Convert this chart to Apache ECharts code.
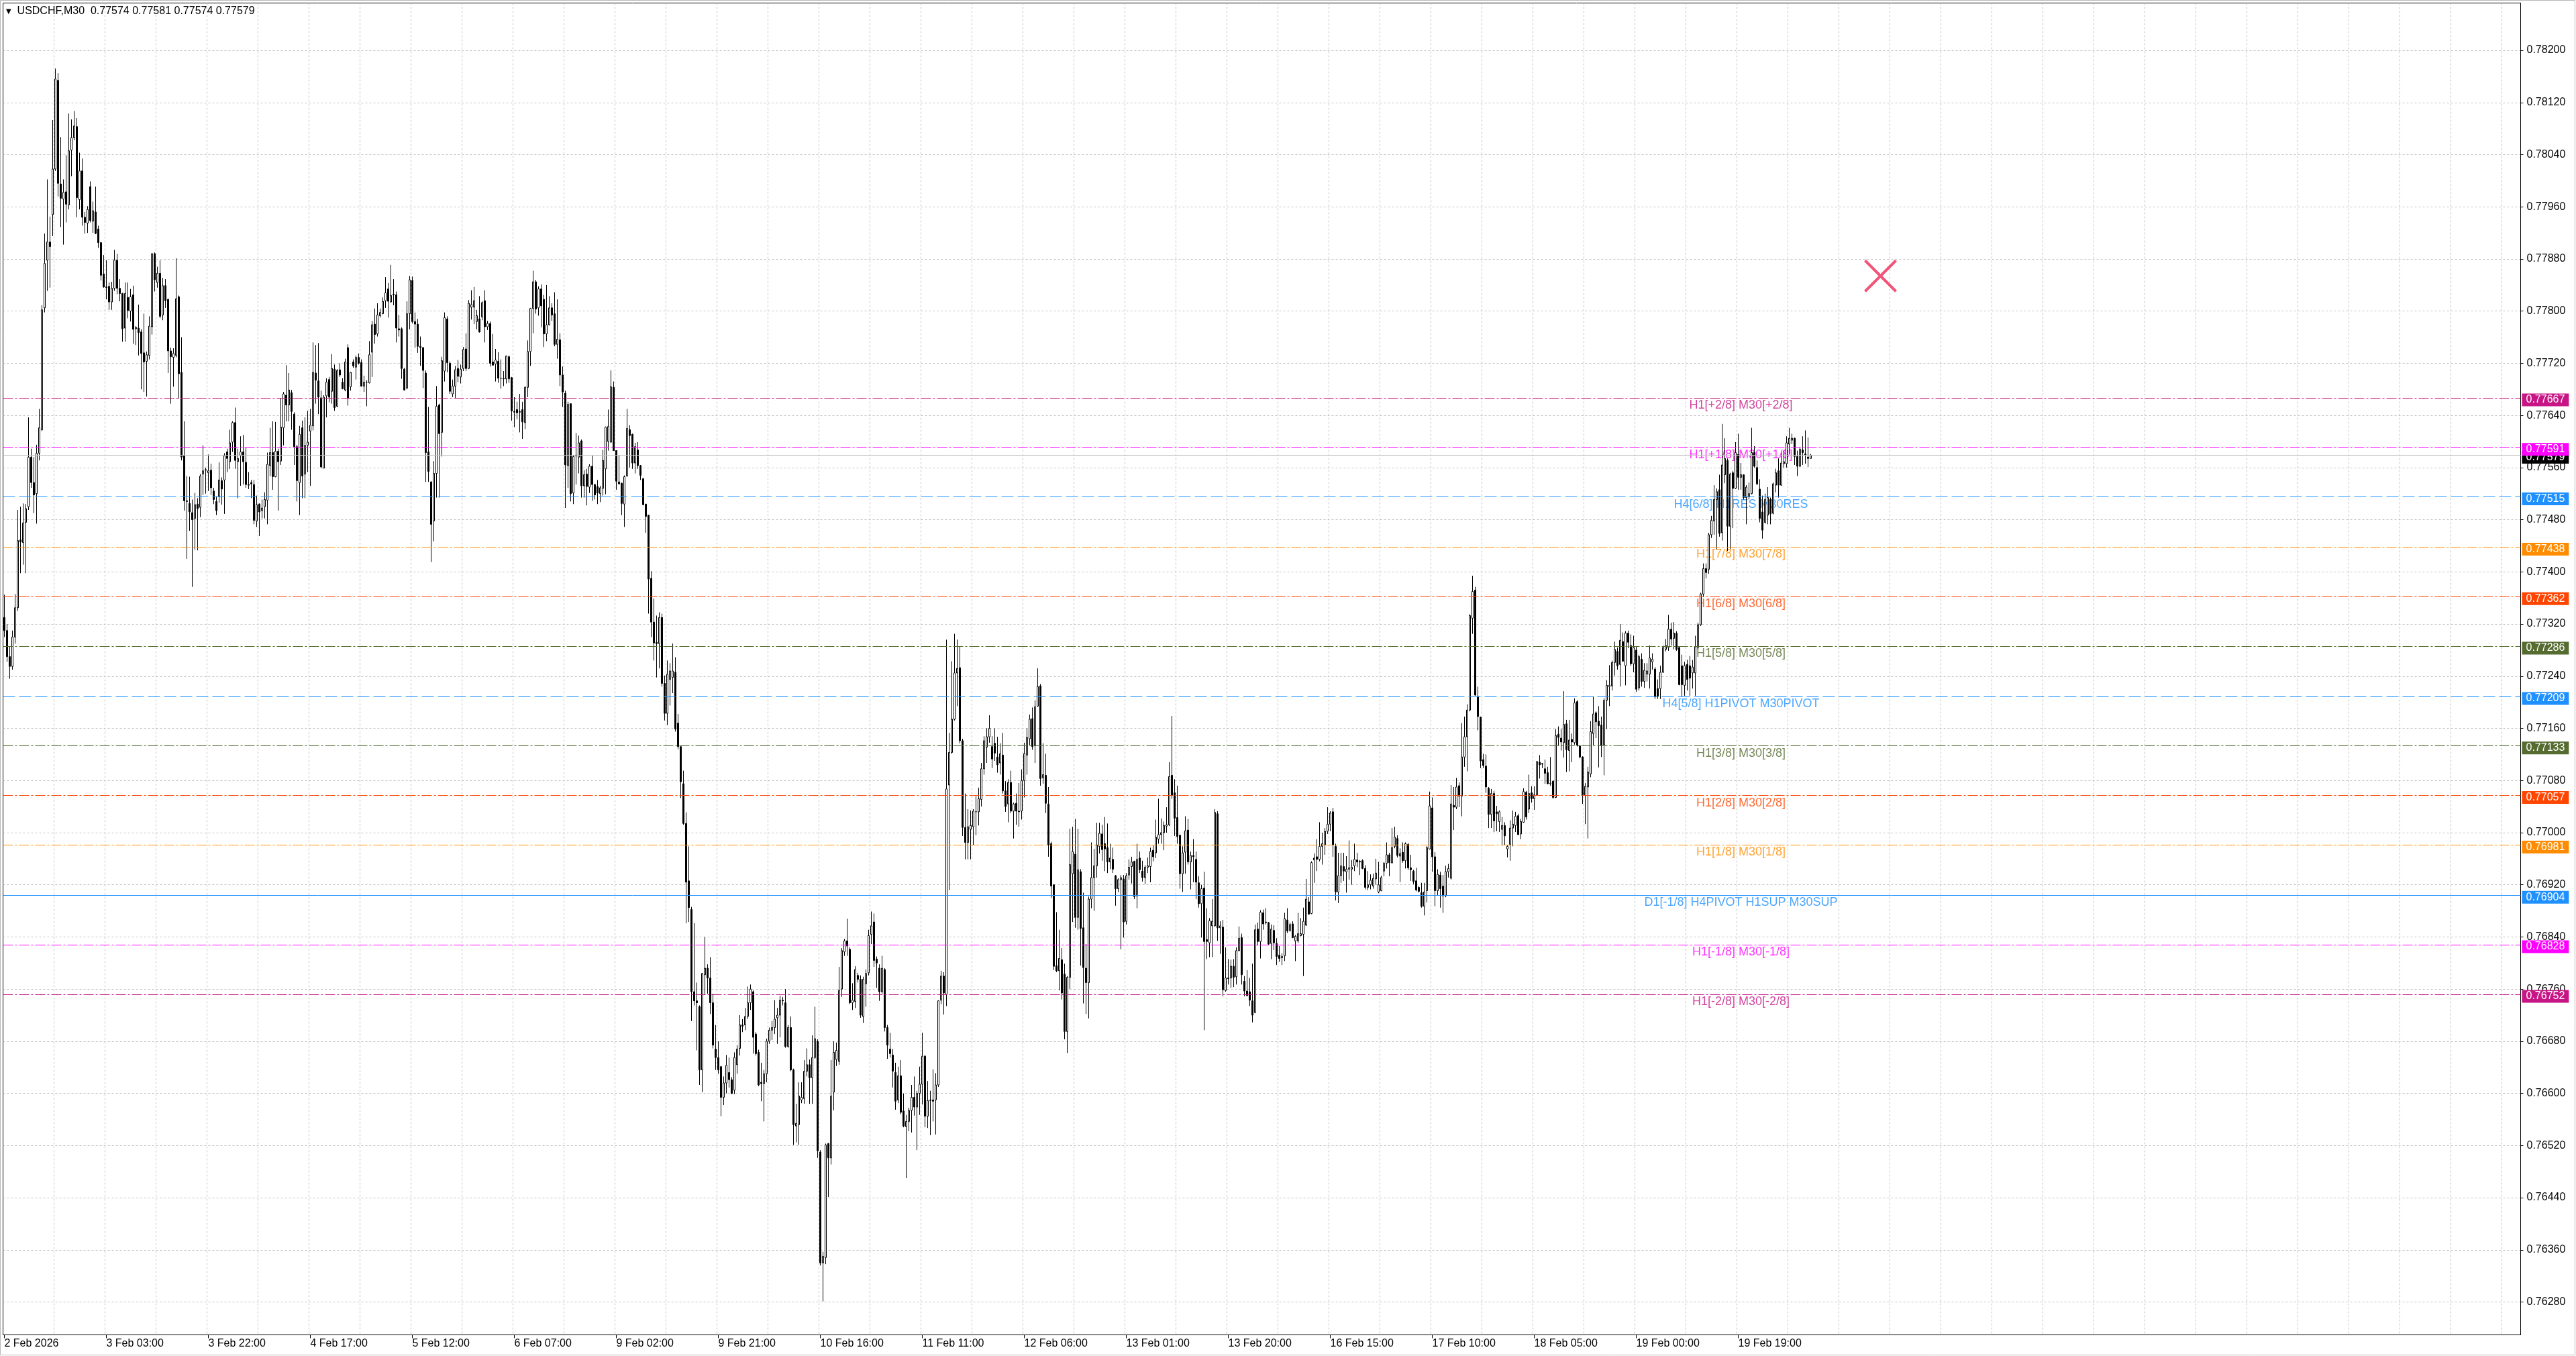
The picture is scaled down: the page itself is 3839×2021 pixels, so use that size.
<!DOCTYPE html>
<html>
<head>
<meta charset="utf-8">
<script src="https://cdn.jsdelivr.net/npm/echarts@6/dist/echarts.min.js"></script>
<style>
html,body{margin:0;padding:0;background:#ffffff;}
#chart{width:3839px;height:2021px;}
</style>
</head>
<body>
<div id="chart"></div>
<script>
// ---------------- chart data ----------------
const symbolName = 'USDCHF,M30';
const firstBarTime = '2026-02-02T08:00:00Z';   // first visible M30 bar
const totalSlots = 938;                         // bar slots across the chart (incl. right shift)
const xTickLabels = ['2 Feb 2026','3 Feb 03:00','3 Feb 22:00','4 Feb 17:00','5 Feb 12:00','6 Feb 07:00',
  '9 Feb 02:00','9 Feb 21:00','10 Feb 16:00','11 Feb 11:00','12 Feb 06:00','13 Feb 01:00','13 Feb 20:00',
  '16 Feb 15:00','17 Feb 10:00','18 Feb 05:00','19 Feb 00:00','19 Feb 19:00'];
const xTickStep = 38;      // bars between time labels
const xGridStep = 19;      // bars between vertical grid lines
const yTicks = [0.76280,0.76360,0.76440,0.76520,0.76600,0.76680,0.76760,0.76840,0.76920,0.77000,
  0.77080,0.77160,0.77240,0.77320,0.77400,0.77480,0.77560,0.77640,0.77720,0.77800,0.77880,0.77960,
  0.78040,0.78120,0.78200];
const yMin = 0.762296, yMax = 0.782726;

// Murrey-math style levels
const levelValues = [0.77667,0.77591,0.77515,0.77438,0.77362,0.77286,0.77209,0.77133,0.77057,0.76981,0.76904,0.76828,0.76752];
const levelColors = ['#C71585','#FF00FF','#1E90FF','#FF8C00','#FF4500','#556B2F','#1E90FF','#556B2F','#FF4500','#FF8C00','#1E90FF','#FF00FF','#C71585'];
const levelStyles = ['dashdot','dashdot','dash','dashdot','dashdot','dashdot','dash','dashdot','dashdot','dashdot','solid','dashdot','dashdot'];
const levelTexts = ['H1[+2/8] M30[+2/8]','H1[+1/8] M30[+1/8]','H4[6/8] H1RES M30RES','H1[7/8] M30[7/8]','H1[6/8] M30[6/8]',
  'H1[5/8] M30[5/8]','H4[5/8] H1PIVOT M30PIVOT','H1[3/8] M30[3/8]','H1[2/8] M30[2/8]','H1[1/8] M30[1/8]',
  'D1[-1/8] H4PIVOT H1SUP M30SUP','H1[-1/8] M30[-1/8]','H1[-2/8] M30[-2/8]'];
const levelTextBar = 647;
const crossMarker = [699, 0.77854];

// OHLC bars in pipettes: [open, high, low, close]
const bars = [
[77330,77365,77300,77310],[77310,77320,77262,77270],[77270,77285,77236,77255],[77255,77310,77250,77300],[77300,77366,77290,77345],
[77345,77495,77340,77448],[77449,77500,77398,77446],[77445,77505,77411,77475],[77476,77504,77398,77497],[77500,77637,77495,77576],
[77576,77589,77529,77537],[77537,77576,77490,77518],[77520,77595,77474,77582],[77582,77650,77571,77621],[77618,77809,77616,77802],
[77805,77919,77798,77873],[77878,78002,77831,77906],[77906,77945,77836,77899],[77948,78093,77915,78018],[78018,78172,78015,78156],
[78154,78165,77976,77996],[77995,78067,77929,77973],[77972,78002,77902,77982],[77983,78039,77936,77964],[77963,78103,77956,78046],
[78047,78094,78007,78066],[78066,78107,78062,78084],[78083,78096,77944,77974],[77971,78043,77956,78015],[78015,78034,77931,77944],
[77944,77952,77919,77936],[77935,77961,77920,77956],[77991,77999,77936,77939],[77938,77968,77920,77954],[77952,77991,77918,77919],
[77926,77931,77897,77905],[77905,77906,77847,77855],[77857,77886,77836,77837],[77837,77878,77818,77836],[77838,77844,77802,77814],
[77814,77845,77802,77835],[77835,77894,77831,77878],[77878,77888,77826,77835],[77835,77849,77815,77827],[77827,77828,77753,77773],
[77774,77844,77753,77827],[77821,77844,77789,77801],[77800,77834,77784,77822],[77825,77839,77750,77772],[77773,77777,77748,77775],
[77774,77810,77732,77767],[77768,77772,77680,77735],[77736,77796,77676,77722],[77723,77738,77669,77733],[77732,77792,77726,77777],
[77776,77889,77764,77888],[77888,77890,77830,77848],[77844,77868,77836,77858],[77858,77878,77789,77792],[77794,77851,77786,77839],
[77839,77849,77805,77816],[77818,77819,77705,77739],[77739,77744,77658,77730],[77729,77743,77684,77735],[77732,77881,77729,77819],
[77822,77824,77666,77704],[77706,77760,77571,77576],[77578,77631,77494,77509],[77509,77547,77420,77508],[77505,77546,77463,77492],
[77491,77511,77377,77480],[77482,77521,77434,77503],[77504,77513,77433,77497],[77499,77550,77484,77547],[77550,77594,77518,77555],
[77556,77560,77520,77557],[77552,77580,77524,77555],[77556,77566,77518,77529],[77524,77529,77504,77511],[77508,77516,77487,77494],
[77516,77568,77506,77541],[77540,77545,77503,77527],[77541,77582,77489,77578],[77584,77589,77553,77574],[77569,77618,77558,77598],
[77599,77631,77584,77629],[77629,77652,77558,77571],[77569,77589,77513,77574],[77578,77608,77532,77584],[77584,77610,77534,77569],
[77568,77590,77529,77534],[77534,77553,77527,77533],[77537,77541,77513,77535],[77534,77541,77473,77479],[77478,77517,77469,77503],
[77504,77505,77455,77492],[77494,77511,77482,77498],[77500,77522,77482,77511],[77510,77583,77473,77565],[77563,77621,77547,77583],
[77583,77631,77526,77546],[77546,77630,77545,77585],[77585,77589,77494,77569],[77570,77666,77564,77622],[77621,77676,77594,77673],
[77671,77717,77631,77656],[77656,77705,77631,77679],[77675,77679,77618,77646],[77642,77645,77564,77592],[77592,77595,77508,77540],
[77537,77624,77487,77611],[77621,77632,77513,77547],[77550,77637,77513,77594],[77594,77647,77553,77599],[77616,77650,77532,77625],
[77624,77752,77617,77706],[77705,77748,77658,77694],[77693,77751,77642,77668],[77667,77678,77559,77561],[77559,77671,77559,77668],
[77670,77697,77637,77691],[77695,77699,77660,77668],[77677,77734,77658,77712],[77711,77718,77647,77652],[77654,77711,77653,77709],
[77710,77720,77699,77702],[77691,77697,77680,77681],[77679,77727,77677,77722],[77744,77749,77655,77666],[77684,77707,77678,77706],
[77722,77726,77713,77716],[77714,77732,77695,77729],[77729,77735,77718,77720],[77721,77726,77684,77685],[77685,77701,77676,77691],
[77691,77694,77654,77691],[77690,77754,77689,77733],[77737,77785,77699,77779],[77780,77804,77750,77764],[77765,77812,77761,77794],
[77793,77804,77790,77798],[77796,77821,77795,77815],[77816,77852,77805,77828],[77834,77843,77790,77815],[77814,77871,77813,77824],
[77826,77849,77809,77825],[77825,77830,77752,77774],[77773,77794,77761,77771],[77773,77775,77696,77712],[77711,77713,77678,77679],
[77682,77815,77680,77796],[77796,77854,77772,77848],[77847,77853,77781,77784],[77784,77798,77744,77780],[77780,77788,77736,77746],
[77746,77761,77716,77744],[77744,77745,77682,77709],[77705,77709,77538,77583],[77584,77653,77538,77554],[77538,77539,77415,77473],
[77478,77570,77447,77551],[77551,77685,77514,77654],[77656,77658,77514,77612],[77614,77730,77577,77724],[77708,77798,77692,77790],
[77788,77792,77706,77721],[77720,77723,77673,77677],[77673,77695,77668,77685],[77685,77716,77666,77710],[77712,77725,77691,77700],
[77699,77718,77689,77711],[77712,77745,77708,77741],[77742,77766,77708,77712],[77712,77817,77711,77812],[77806,77832,77787,77810],
[77806,77837,77780,77816],[77784,77802,77772,77793],[77788,77823,77767,77768],[77791,77815,77786,77813],[77816,77832,77752,77776],
[77776,77785,77771,77781],[77781,77784,77715,77720],[77722,77765,77717,77717],[77719,77742,77692,77725],[77723,77737,77690,77697],
[77697,77726,77681,77697],[77697,77708,77685,77696],[77696,77732,77689,77731],[77730,77732,77690,77696],[77698,77699,77632,77647],
[77646,77668,77622,77645],[77649,77661,77634,77644],[77646,77673,77614,77645],[77649,77661,77604,77630],[77629,77685,77619,77683],
[77683,77755,77668,77738],[77738,77805,77716,77804],[77804,77862,77766,77845],[77845,77848,77796,77803],[77805,77838,77793,77834],
[77834,77841,77775,77808],[77818,77825,77745,77765],[77765,77840,77754,77779],[77779,77823,77778,77805],[77805,77812,77785,77794],
[77796,77829,77746,77749],[77749,77818,77727,77757],[77756,77766,77685,77702],[77702,77715,77653,77676],[77674,77678,77498,77564],
[77563,77661,77529,77657],[77658,77658,77508,77520],[77521,77579,77504,77577],[77579,77613,77534,77578],[77576,77609,77551,77598],
[77601,77603,77514,77532],[77532,77556,77514,77549],[77550,77558,77502,77531],[77530,77565,77521,77562],[77562,77578,77509,77534],
[77534,77535,77511,77518],[77531,77541,77504,77521],[77520,77532,77507,77529],[77528,77587,77517,77571],[77558,77623,77519,77622],
[77600,77649,77586,77623],[77599,77709,77598,77684],[77683,77692,77586,77586],[77586,77586,77526,77539],[77538,77579,77534,77535],
[77536,77537,77487,77505],[77504,77548,77469,77546],[77547,77650,77546,77620],[77618,77625,77560,77609],[77611,77612,77558,77567],
[77567,77598,77551,77592],[77587,77599,77558,77563],[77563,77564,77541,77548],[77543,77544,77502,77503],[77504,77504,77460,77485],
[77487,77487,77336,77389],[77390,77401,77300,77323],[77323,77359,77264,77291],[77292,77333,77238,77290],[77290,77338,77252,77330],
[77330,77336,77224,77229],[77229,77241,77172,77183],[77183,77264,77165,77243],[77235,77260,77195,77248],[77238,77290,77214,77248],
[77246,77269,77155,77159],[77168,77182,77128,77132],[77132,77132,77053,77078],[77075,77095,77012,77014],[77014,77031,76861,76924],
[76926,76979,76863,76885],[76882,76886,76711,76756],[76756,76861,76735,76742],[76742,76770,76666,76739],[76733,76735,76613,76636],
[76636,76785,76602,76784],[76782,76840,76752,76792],[76792,76798,76753,76777],[76777,76809,76722,76739],[76739,76753,76669,76674],
[76668,76705,76636,76655],[76655,76680,76630,76636],[76641,76642,76565,76594],[76594,76626,76582,76616],[76616,76659,76600,76643],
[76632,76655,76609,76621],[76621,76625,76599,76600],[76605,76663,76599,76655],[76644,76674,76630,76668],[76669,76720,76658,76705],
[76705,76714,76694,76703],[76705,76731,76697,76718],[76718,76764,76714,76739],[76739,76767,76728,76760],[76756,76758,76661,76686],
[76691,76694,76658,76661],[76663,76667,76611,76613],[76617,76647,76588,76615],[76615,76636,76557,76630],[76630,76684,76617,76680],
[76680,76701,76676,76697],[76697,76711,76682,76701],[76701,76743,76691,76714],[76716,76731,76676,76720],[76720,76750,76686,76743],
[76743,76748,76735,76742],[76739,76760,76670,76672],[76672,76705,76670,76701],[76701,76718,76634,76636],[76636,76638,76521,76552],
[76550,76584,76525,76554],[76552,76617,76521,76596],[76590,76617,76585,76594],[76592,76651,76584,76634],[76634,76669,76626,76644],
[76644,76652,76584,76624],[76624,76689,76584,76655],[76655,76733,76653,76684],[76680,76683,76501,76512],[76510,76513,76336,76340],
[76340,76357,76281,76350],[76348,76523,76338,76521],[76523,76524,76441,76501],[76501,76651,76491,76596],[76602,76680,76574,76663],
[76652,76678,76642,76666],[76649,76794,76644,76758],[76760,76823,76748,76819],[76817,76837,76811,76834],[76834,76868,76811,76826],
[76821,76824,76737,76739],[76739,76769,76728,76743],[76741,76795,76731,76790],[76781,76785,76770,76775],[76775,76781,76716,76720],
[76718,76779,76708,76775],[76768,76790,76733,76784],[76785,76851,76781,76842],[76844,76879,76829,76857],[76863,76876,76794,76804],
[76806,76810,76762,76800],[76792,76798,76742,76756],[76756,76811,76753,76792],[76790,76792,76695,76701],[76701,76705,76653,76674],
[76668,76693,76655,76661],[76659,76668,76609,76634],[76632,76647,76575,76588],[76590,76641,76585,76627],[76627,76651,76568,76571],
[76573,76600,76548,76550],[76549,76567,76470,76557],[76557,76578,76542,76574],[76574,76613,76540,76594],[76594,76626,76566,76579],
[76579,76604,76513,76600],[76600,76641,76567,76614],[76614,76693,76583,76657],[76657,76659,76548,76565],[76565,76619,76547,76589],
[76590,76604,76536,76589],[76590,76637,76557,76588],[76590,76631,76537,76613],[76613,76743,76610,76742],[76743,76788,76737,76780],
[76780,76786,76721,76754],[76752,77296,76734,77067],[77073,77153,76912,77123],[77123,77263,77121,77174],[77174,77305,77172,77245],
[77245,77296,77194,77252],[77253,77285,77137,77141],[77141,77144,76995,77008],[77008,77060,76959,76985],[76985,77036,76959,77009],
[77005,77034,76959,77011],[77009,77036,76981,77033],[77032,77056,76996,77032],[77032,77069,77011,77052],[77051,77107,77040,77098],
[77098,77148,77089,77141],[77131,77160,77107,77147],[77147,77180,77138,77160],[77132,77148,77099,77113],[77137,77160,77110,77122],
[77116,77147,77092,77104],[77107,77137,77089,77121],[77119,77153,77060,77064],[77064,77079,77032,77040],[77044,77082,77016,77077],
[77077,77095,77030,77033],[77033,77046,76991,77044],[77045,77060,77012,77033],[77033,77076,77009,77032],[77033,77097,77020,77080],
[77080,77138,77054,77121],[77119,77160,77089,77146],[77144,77181,77134,77174],[77175,77192,77127,77132],[77134,77203,77107,77193],
[77194,77252,77193,77224],[77225,77228,77072,77083],[77084,77137,77075,77089],[77088,77121,77030,77045],[77044,77070,76963,76981],
[76983,76986,76900,76918],[76920,76921,76789,76795],[76796,76878,76786,76788],[76788,76851,76758,76807],[76805,76823,76744,76754],
[76783,76799,76683,76695],[76695,76780,76662,76778],[76778,77006,76760,76951],[76937,77009,76863,76971],[76967,77021,76854,76870],
[76870,77006,76851,76943],[76940,76944,76796,76853],[76854,76908,76738,76793],[76792,76829,76722,76770],[76770,76902,76715,76898],
[76898,76985,76884,76931],[76931,76975,76880,76949],[76949,77015,76931,76981],[76979,77015,76968,76999],[76998,77012,76957,76974],
[76983,77024,76941,76975],[76977,77014,76938,76955],[76955,76983,76944,76961],[76959,76977,76938,76944],[76934,76935,76888,76914],
[76914,76930,76909,76928],[76928,76935,76821,76931],[76929,76935,76839,76863],[76864,76938,76859,76934],[76935,76959,76928,76947],
[76948,76963,76922,76955],[76956,76957,76898,76902],[76903,76983,76884,76959],[76961,76971,76938,76943],[76941,76957,76925,76931],
[76931,76950,76921,76947],[76947,76962,76938,76949],[76948,76977,76924,76971],[76973,76980,76956,76963],[76969,77020,76961,76993],
[76990,77052,76983,76997],[76997,77022,76983,77000],[77000,77017,76973,77011],[77010,77039,77000,77012],[77012,77108,77010,77086],
[77088,77179,77052,77057],[77061,77082,76995,77022],[77023,77072,76983,76994],[76996,76997,76914,76937],[76937,76979,76909,76969],
[76970,77025,76937,77003],[77004,77021,76951,76955],[76955,76971,76913,76965],[76965,76990,76924,76963],[76959,76971,76898,76924],
[76923,76933,76885,76891],[76891,76920,76839,76914],[76915,76940,76697,76833],[76836,76884,76806,76833],[76831,76869,76809,76865],
[76857,76898,76809,76864],[76857,77036,76856,77031],[77029,77033,76834,76854],[76854,76864,76814,76857],[76855,76866,76749,76759],
[76758,76824,76756,76777],[76777,76806,76767,76776],[76777,76805,76762,76795],[76795,76806,76763,76778],[76779,76824,76767,76819],
[76819,76856,76818,76838],[76839,76845,76767,76782],[76772,76780,76749,76757],[76757,76789,76749,76750],[76756,76777,76734,76743],
[76742,76799,76709,76720],[76724,76859,76723,76851],[76852,76862,76827,76833],[76833,76881,76807,76878],[76877,76882,76851,76860],
[76863,76884,76859,76862],[76862,76863,76828,76829],[76830,76859,76806,76852],[76850,76858,76820,76831],[76830,76838,76797,76810],
[76812,76826,76802,76807],[76808,76815,76797,76810],[76811,76877,76803,76868],[76866,76884,76846,76849],[76850,76862,76848,76859],
[76860,76864,76838,76839],[76834,76843,76803,76841],[76834,76877,76831,76845],[76842,76869,76841,76845],[76844,76885,76780,76864],
[76858,76929,76857,76898],[76894,76901,76874,76875],[76876,76956,76875,76954],[76958,76968,76923,76961],[76963,76990,76941,76959],
[76959,77016,76956,76979],[76979,77000,76951,76983],[76981,77007,76966,77002],[77002,77039,76998,77013],[77013,77033,77002,77030],
[77032,77038,76963,76981],[76979,76983,76896,76909],[76909,76969,76892,76934],[76934,76969,76923,76949],[76948,76969,76926,76941],
[76940,76964,76908,76944],[76944,76988,76928,76946],[76944,76958,76920,76947],[76949,76983,76941,76959],[76958,76969,76947,76955],
[76956,76958,76935,76955],[76957,76959,76944,76945],[76945,76950,76913,76916],[76916,76941,76912,76920],[76920,76936,76913,76927],
[76918,76937,76914,76930],[76929,76960,76920,76938],[76909,76955,76907,76920],[76911,76934,76910,76931],[76941,76955,76933,76953],
[76953,76985,76945,76966],[76966,76969,76933,76954],[76954,77007,76952,76977],[76979,77009,76976,76993],[76991,76996,76962,76965],
[76964,76976,76924,76968],[76970,76985,76954,76957],[76957,76985,76945,76983],[76982,76984,76943,76946],[76946,76966,76926,76943],
[76941,76943,76921,76925],[76926,76946,76910,76912],[76916,76918,76908,76910],[76908,76923,76885,76887],[76887,76923,76873,76909],
[76911,76979,76893,76977],[76975,77063,76974,77041],[77038,77054,76940,76963],[76963,76970,76887,76911],[76911,76944,76904,76936],
[76935,76940,76885,76914],[76918,76935,76877,76903],[76903,76949,76901,76940],[76940,76952,76931,76945],[76930,77073,76928,77044],
[77042,77070,77004,77039],[77039,77084,77036,77070],[77072,77077,77039,77056],[77056,77168,77025,77116],[77116,77178,77101,77147],
[77147,77197,77094,77188],[77188,77335,77186,77333],[77329,77394,77305,77370],[77372,77377,77210,77211],[77209,77224,77157,77178],
[77177,77178,77099,77110],[77112,77121,77099,77103],[77102,77120,77061,77070],[77068,77070,77007,77028],[77028,77067,77007,77060],
[77060,77064,77001,77018],[77032,77041,77002,77029],[77017,77034,77001,77032],[77005,77024,76981,77011],[77011,77016,76981,76995],
[76975,76981,76962,76979],[76982,77019,76957,77007],[77007,77034,76979,77013],[77011,77032,77001,77025],[77026,77029,76996,76997],
[76998,77021,76990,77017],[77016,77068,77015,77063],[77062,77064,77020,77024],[77036,77089,77030,77060],[77061,77071,77046,77052],
[77052,77071,77035,77058],[77058,77110,77057,77109],[77108,77119,77083,77104],[77105,77107,77099,77106],[77098,77112,77075,77091],
[77092,77101,77074,77075],[77075,77116,77072,77076],[77079,77080,77052,77054],[77054,77159,77053,77149],[77151,77163,77134,77146],
[77145,77159,77126,77139],[77138,77217,77115,77166],[77167,77173,77093,77127],[77126,77173,77094,77142],[77143,77152,77108,77139],
[77138,77206,77135,77199],[77201,77203,77132,77134],[77133,77134,77114,77116],[77116,77117,77044,77057],[77057,77076,77013,77071],
[77070,77101,76991,77093],[77090,77171,77085,77155],[77152,77209,77134,77182],[77184,77186,77145,77170],[77171,77194,77100,77164],
[77165,77178,77116,77134],[77135,77206,77088,77203],[77203,77234,77159,77226],[77224,77257,77194,77226],[77225,77264,77218,77261],
[77261,77293,77241,77281],[77278,77284,77250,77256],[77258,77320,77224,77295],[77293,77307,77262,77263],[77256,77309,77226,77306],
[77306,77310,77283,77292],[77287,77304,77256,77259],[77259,77302,77246,77284],[77280,77285,77216,77220],[77222,77273,77218,77270],
[77266,77275,77224,77232],[77232,77260,77222,77249],[77243,77260,77232,77248],[77243,77287,77221,77268],[77262,77275,77250,77266],
[77251,77254,77205,77209],[77221,77235,77205,77209],[77221,77256,77205,77246],[77246,77287,77245,77284],[77281,77297,77278,77287],
[77284,77334,77279,77312],[77312,77322,77287,77297],[77298,77323,77281,77306],[77306,77309,77279,77281],[77284,77285,77226,77227],
[77256,77273,77209,77227],[77226,77262,77210,77256],[77258,77265,77218,77235],[77256,77271,77210,77237],[77245,77265,77221,77254],
[77245,77302,77210,77285],[77284,77322,77281,77319],[77319,77368,77317,77366],[77366,77413,77362,77405],[77405,77413,77390,77399],
[77404,77460,77397,77457],[77457,77486,77452,77479],[77478,77533,77457,77511],[77511,77528,77435,77523],[77526,77549,77454,77459],
[77460,77627,77448,77564],[77549,77605,77536,77574],[77571,77574,77432,77470],[77470,77552,77435,77550],[77552,77555,77467,77528],
[77528,77599,77527,77583],[77580,77612,77526,77545],[77545,77567,77526,77549],[77549,77549,77511,77514],[77514,77533,77473,77530],
[77516,77537,77511,77520],[77520,77621,77519,77583],[77583,77593,77560,77562],[77560,77571,77533,77535],[77527,77542,77476,77482],
[77492,77517,77451,77464],[77476,77520,77474,77511],[77487,77530,77473,77514],[77511,77514,77473,77489],[77490,77537,77488,77535],
[77533,77558,77522,77552],[77555,77574,77514,77533],[77533,77583,77532,77567],[77566,77586,77560,77569],[77566,77608,77560,77598],
[77596,77621,77580,77605],[77602,77612,77596,77605],[77605,77606,77564,77577],[77577,77586,77547,77562],[77562,77591,77561,77588],
[77587,77608,77564,77583],[77581,77617,77566,77579],[77576,77606,77561,77574],[77574,77581,77574,77579]
];

// ---------------- build ----------------
const FONT = 'Liberation Sans, Arial, sans-serif';
const MONTHS = ['Jan','Feb','Mar','Apr','May','Jun','Jul','Aug','Sep','Oct','Nov','Dec'];
const pad = n => (n < 10 ? '0' : '') + n;
const categories = [];
let t = Date.parse(firstBarTime);
while (categories.length < totalSlots) {
  const d = new Date(t);
  const wd = d.getUTCDay();
  if (wd !== 0 && wd !== 6) {
    categories.push(d.getUTCDate() + ' ' + MONTHS[d.getUTCMonth()] + ' ' + pad(d.getUTCHours()) + ':' + pad(d.getUTCMinutes()));
  }
  t += 30 * 60 * 1000;
}
const labelAt = {};
xTickLabels.forEach((s, k) => { labelAt[k * xTickStep] = s; });

const P = v => v / 100000;
const candleData = bars.map(b => [P(b[0]), P(b[3]), P(b[2]), P(b[1])]);
const last = bars[bars.length - 1];
const bidPrice = P(last[3]);

const dashFor = s => s === 'dashdot' ? [15, 3, 3, 3] : (s === 'dash' ? [18, 6] : 'solid');
const tagLabel = (bg) => ({
  show: true, position: 'end', distance: 2, offset: [0, 3],
  formatter: p => Number(p.value).toFixed(5),
  color: '#ffffff', backgroundColor: bg, padding: [2, 6, 0, 6],
  fontSize: 16, lineHeight: 17, fontFamily: FONT
});
const markLines = [{
  yAxis: bidPrice,
  lineStyle: { color: '#C0C0C0', type: 'solid', width: 1 },
  label: tagLabel('#000000')
}].concat(levelValues.map((v, k) => ({
  yAxis: v,
  lineStyle: { color: levelColors[k], type: dashFor(levelStyles[k]), width: 1 },
  label: tagLabel(levelColors[k])
})));

const header = '{tri|▼}  ' + symbolName + '  ' + [last[0], last[1], last[2], last[3]].map(v => P(v).toFixed(5)).join(' ');

const chart = echarts.init(document.getElementById('chart'), null, { renderer: 'canvas' });
chart.setOption({
  animation: false,
  backgroundColor: '#ffffff',
  title: {
    text: header, left: 9, top: 9, padding: 0,
    textStyle: { fontFamily: FONT, fontSize: 16, fontWeight: 'normal', color: '#000',
      rich: { tri: { fontSize: 10, color: '#000', fontFamily: 'DejaVu Sans' } } }
  },
  grid: { left: 4.5, right: 82.5, top: 4.5, bottom: 31.5, show: true, borderColor: '#000', borderWidth: 1, backgroundColor: '#fff' },
  xAxis: {
    type: 'category', data: categories, boundaryGap: true,
    axisLine: { show: true, lineStyle: { color: '#000', width: 1 } },
    axisTick: { show: true, alignWithLabel: true, length: 5, interval: (i) => labelAt[i] !== undefined, lineStyle: { color: '#000' } },
    axisLabel: {
      show: true, interval: (i) => labelAt[i] !== undefined, formatter: (v, i) => labelAt[i] || '',
      align: 'left', margin: 5, fontFamily: FONT, fontSize: 16, color: '#000'
    },
    splitLine: { show: true, interval: (i) => i > 0 && i % xGridStep === 0, lineStyle: { color: '#C0C0C0', type: [3, 3], width: 1 } }
  },
  yAxis: {
    type: 'value', position: 'right', min: yMin, max: yMax, scale: true,
    axisLine: { show: true, lineStyle: { color: '#000', width: 1 } },
    axisTick: { show: true, customValues: yTicks, length: 4, lineStyle: { color: '#000' } },
    axisLabel: { show: true, customValues: yTicks, formatter: v => v.toFixed(5), margin: 9, fontFamily: FONT, fontSize: 16, color: '#000' },
    splitLine: { show: true, lineStyle: { color: '#C0C0C0', type: [3, 3], width: 1 } }
  },
  series: [
    {
      name: 'levels', type: 'scatter', z: 1, clip: false, silent: true,
      symbolSize: 0,
      data: levelValues.map((v, k) => ({
        value: [levelTextBar, v],
        label: { show: true, position: 'bottom', distance: 2, color: levelColors[k], formatter: levelTexts[k],
          fontFamily: FONT, fontSize: 18 }
      })),
      markLine: { silent: true, precision: 5, symbol: ['none', 'none'], animation: false, data: markLines }
    },
    {
      name: symbolName, type: 'candlestick', z: 2, large: false, barWidth: 2, clip: true,
      data: candleData,
      itemStyle: { color: '#ffffff', color0: '#000000', borderColor: '#000000', borderColor0: '#000000', borderWidth: 1 }
    },
    {
      name: 'marker', type: 'scatter', z: 3, silent: true,
      symbol: 'path://M0,0 L10,10 M10,0 L0,10', symbolSize: 46,
      itemStyle: { color: 'none', borderColor: '#EC2A55', borderWidth: 4 },
      data: [crossMarker]
    }
  ],
  graphic: [{
    type: 'rect', silent: true, z: 100,
    shape: { x: 0.5, y: 0.5, width: 3837, height: 2019 },
    style: { fill: 'none', stroke: '#B8B8B8', lineWidth: 1 }
  }]
});
</script>
</body>
</html>
